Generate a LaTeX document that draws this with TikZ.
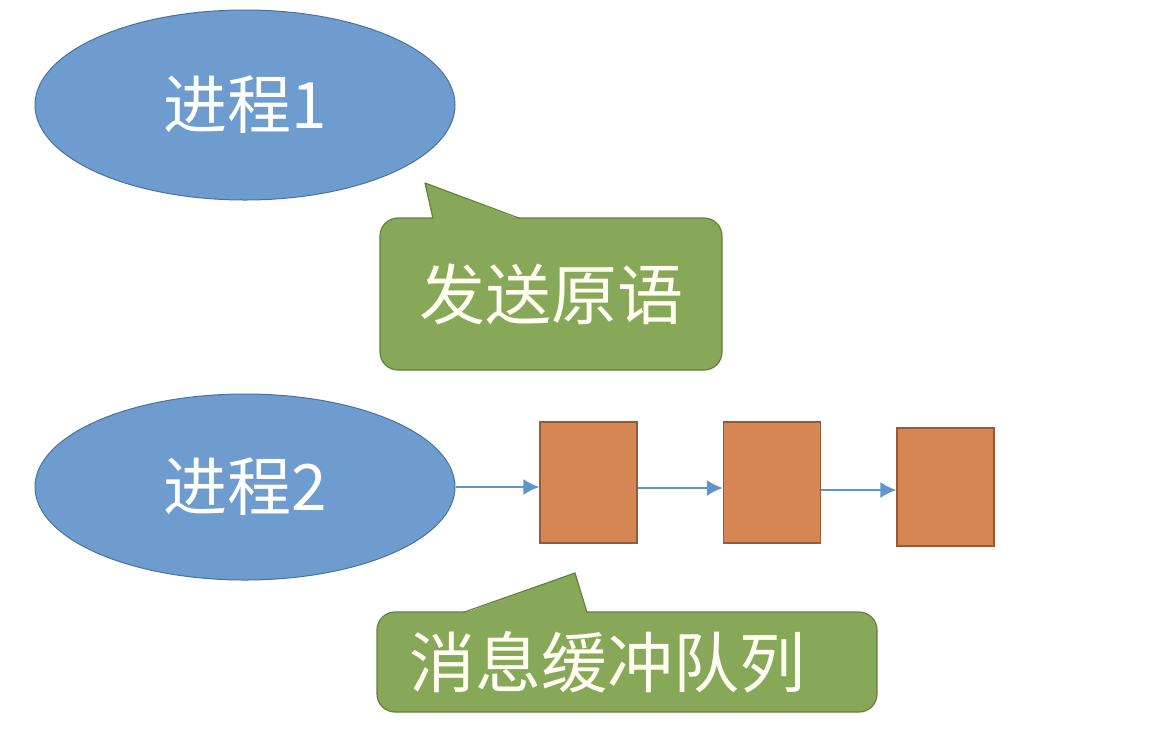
\documentclass[tikz,border=0pt]{standalone}
\usepackage{fontspec}
\setmainfont{Noto Sans CJK SC}
\usetikzlibrary{arrows.meta,shapes.geometric}

\definecolor{procblue}{RGB}{110,156,206}
\definecolor{procedge}{RGB}{72,115,160}
\definecolor{tipgreen}{RGB}{134,168,88}
\definecolor{tipedge}{RGB}{100,128,62}
\definecolor{msgorange}{RGB}{213,134,83}
\definecolor{msgedge}{RGB}{150,90,55}
\definecolor{linkblue}{RGB}{96,148,205}

\tikzset{
  proc/.style={ellipse,fill=procblue,draw=procedge,line width=0.5pt,
    minimum width=210pt,minimum height=95pt,text=white,
    font=\fontsize{32}{36}\selectfont},
  tipbox/.style={rectangle,rounded corners=9pt,fill=tipgreen,draw=tipedge,
    line width=0.6pt,text=white!94!yellow,font=\fontsize{33}{36}\selectfont},
  msgbox/.style={rectangle,fill=msgorange,draw=msgedge,line width=0.6pt,
    minimum width=48.5pt,minimum height=60.5pt},
  link/.style={draw=linkblue,line width=1pt,-{Latex[length=8pt,width=8pt]}}
}

\begin{document}
\begin{tikzpicture}[x=0.5pt,y=-0.5pt]
\useasboundingbox (0,0) rectangle (1160,730);

% processes
\node[proc] (p1) at (245,105) {进程1};
\node[proc,minimum height=93pt] (p2) at (245,487) {进程2};

% message queue
\node[msgbox] (m1) at (588.5,482.5) {};
\node[msgbox] (m2) at (772,482.5) {};
\node[msgbox,minimum height=59pt] (m3) at (945.5,487) {};

\draw[link] (p2.east) -- (m1.west |- p2.east);
\draw[link] (m1.east |- 0,488) -- (m2.west |- 0,488);
\draw[link] (m2.east |- 0,490) -- (m3.west |- 0,490);

% callout: send primitive
\node[tipbox,minimum width=171pt,minimum height=76pt] (send) at (551,294) {发送原语};
\coordinate (sendtip) at (425,183);
\fill[tipgreen] (433,219.5) -- (sendtip) -- (520,219.5) -- cycle;
\draw[tipedge,line width=0.6pt,line join=round] (433,218.5) -- (sendtip) -- (520,218.5);

% callout: message buffer queue (text sits to the left)
\node[tipbox,minimum width=250pt,minimum height=50pt,text width=218pt,
  inner xsep=16pt,align=left] (queue) at (627,662) {消息缓冲队列};
\coordinate (queuetip) at (575,573);
\fill[tipgreen] (463,613.5) -- (queuetip) -- (587,613.5) -- cycle;
\draw[tipedge,line width=0.6pt,line join=round] (463,612.5) -- (queuetip) -- (587,612.5);

\end{tikzpicture}
\end{document}
